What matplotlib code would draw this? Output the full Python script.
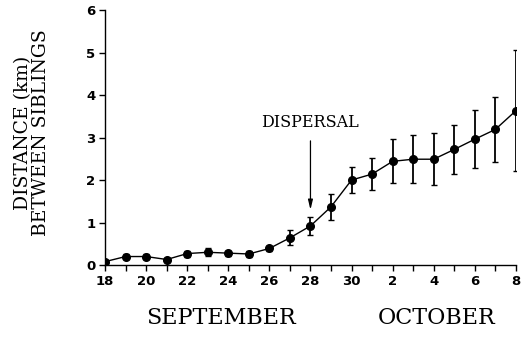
import numpy as np
import matplotlib
matplotlib.use("Agg")
import matplotlib.pyplot as plt

# days from Sep 18 to Oct 8
day_labels = ['18', '19', '20', '21', '22', '23', '24', '25', '26', '27', '28', '29', '30',
              '1', '2', '3', '4', '5', '6', '7', '8']
distance = [0.08, 0.20, 0.20, 0.13, 0.27, 0.30, 0.28, 0.26, 0.39, 0.64, 0.92, 1.37, 2.00,
            2.14, 2.44, 2.49, 2.49, 2.72, 2.96, 3.19, 3.63]
err = [0.04, 0.06, 0.05, 0.03, 0.07, 0.09, 0.06, 0.07, 0.05, 0.18, 0.22, 0.30, 0.30,
       0.37, 0.52, 0.56, 0.61, 0.58, 0.68, 0.77, 1.42]

fig = plt.figure(figsize=(5.28, 3.46), dpi=100)
ax = fig.add_axes([0.199, 0.234, 0.778, 0.737])

x = np.arange(len(day_labels))
ax.errorbar(x, distance, yerr=err, color='black', lw=1.0, marker='o', ms=5.5,
            elinewidth=1.3, capsize=2.5, capthick=1.0)

ax.set_xlim(0, len(day_labels) - 1)
ax.set_ylim(0, 6)
ax.set_xticks(x)
ax.set_xticklabels([lab if i % 2 == 0 else '' for i, lab in enumerate(day_labels)])
ax.set_yticks(range(7))
for s in ['top', 'right']:
    ax.spines[s].set_visible(False)
for s in ['left', 'bottom']:
    ax.spines[s].set_linewidth(1.0)
ax.tick_params(direction='out', length=4, width=1.0, pad=3)
for lab in ax.get_xticklabels() + ax.get_yticklabels():
    lab.set_fontweight('bold')
    lab.set_fontsize(9.5)
    lab.set_family('DejaVu Sans')

ax.set_ylabel('DISTANCE (km)\nBETWEEN SIBLINGS', family='DejaVu Serif',
              fontsize=13.5, linespacing=0.95)
ax.yaxis.set_label_coords(-0.135, 0.52)

ax.annotate('DISPERSAL', xy=(10, 1.3), xytext=(10, 3.15), ha='center', va='bottom',
            family='DejaVu Serif', fontsize=11.5,
            arrowprops=dict(arrowstyle='-|>,head_length=0.5,head_width=0.12',
                            color='black', lw=0.9, shrinkA=5, shrinkB=0))

fig.text(0.418, 0.08, 'SEPTEMBER', ha='center', va='center',
         family='DejaVu Serif', fontsize=16)
fig.text(0.826, 0.08, 'OCTOBER', ha='center', va='center',
         family='DejaVu Serif', fontsize=16)

fig.savefig('out.png', dpi=100)
